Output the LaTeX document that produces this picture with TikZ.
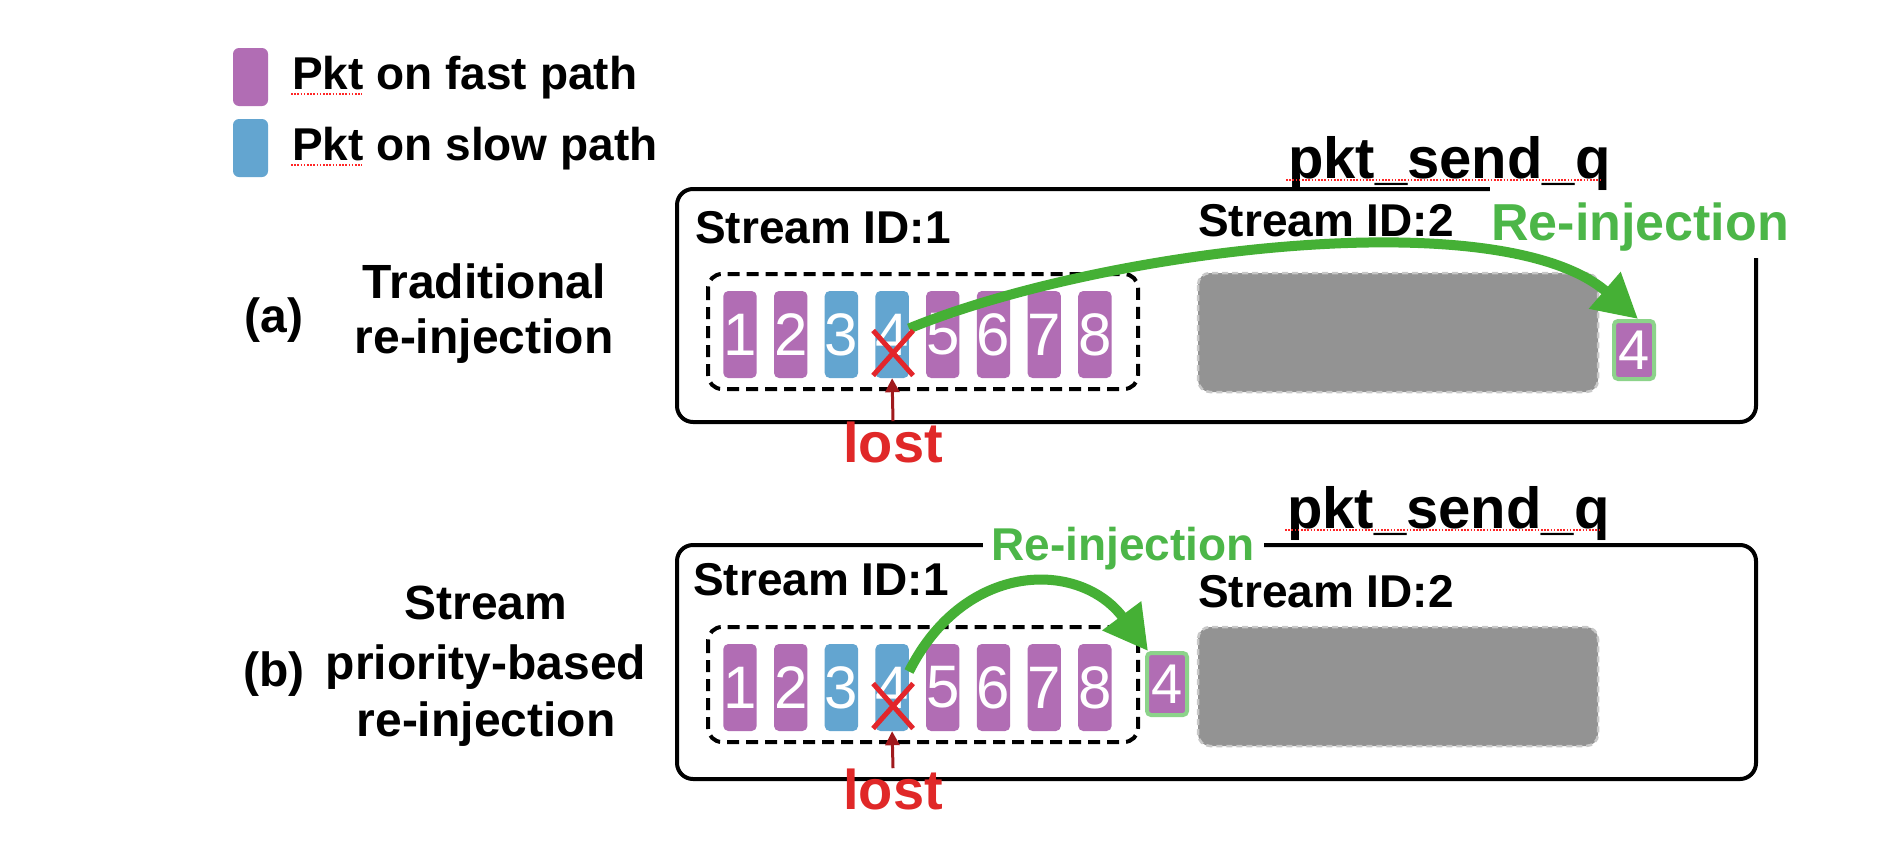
\documentclass[tikz,border=0pt]{standalone}
\usepackage{fontspec}
\setmainfont{Liberation Sans}
\usetikzlibrary{arrows.meta,calc}
\definecolor{pktpurple}{HTML}{B16DB4}
\definecolor{pktblue}{HTML}{63A5D0}
\definecolor{arrgreen}{HTML}{45B035}
\definecolor{lblgreen}{HTML}{4CB648}
\definecolor{boxgreen}{HTML}{8CD38A}
\definecolor{qgray}{HTML}{939393}
\definecolor{qgrayedge}{HTML}{C8C8C8}
\definecolor{xred}{HTML}{E3262B}
\definecolor{lostred}{HTML}{E02828}
\definecolor{darkred}{HTML}{A0191C}
\newcommand{\pxfont}[1]{\fontsize{#1}{#1}\selectfont}
\begin{document}
\begin{tikzpicture}[x=1pt,y=-1pt,
  lbl/.style={inner sep=0pt, font=\pxfont{46}\bfseries},
  captxt/.style={inner sep=0pt, font=\pxfont{48}\bfseries},
  pkt/.style={rounded corners=5pt, minimum width=33pt, minimum height=87pt, inner sep=0pt, text=white, font=\pxfont{60}},
  fast/.style={pkt, fill=pktpurple},
  slow/.style={pkt, fill=pktblue},
  legendbox/.style={rounded corners=6pt, minimum width=35pt, minimum height=58pt, inner sep=0pt},
  frame/.style={line width=4pt, rounded corners=16pt},
  streambox/.style={line width=4pt, rounded corners=14pt, dash pattern=on 12pt off 7pt},
  graybox/.style={fill=qgray, draw=qgrayedge, line width=2.5pt, dash pattern=on 6pt off 4pt, rounded corners=12pt},
  reinjbox/.style={fill=pktpurple, draw=boxgreen, line width=4pt, rounded corners=4pt, minimum width=40pt, inner sep=0pt, text=white, font=\pxfont{56}},
  reinj/.style={draw=arrgreen, line width=10pt, -{Triangle[length=44pt,width=46pt]}},
  lostarrow/.style={draw=darkred, line width=3pt, -{Triangle[length=14pt,width=14pt]}},
  cross/.style={draw=xred, line width=5pt},
  spell/.style={draw=red!85!white, line width=1.6pt, dash pattern=on 1.6pt off 1.6pt},
  qlabel/.style={inner sep=0pt, font=\pxfont{58}\bfseries},
  lostlbl/.style={inner sep=0pt, font=\pxfont{56}\bfseries, text=lostred}
]
\useasboundingbox (0,0) rectangle (1894,854);
\fill[white] (0,0) rectangle (1894,854);

% legend
\node[legendbox, fill=pktpurple] (legfast) at (250.5,77) {};
\node[legendbox, fill=pktblue] (legslow) at (250.5,148) {};
\node[lbl, anchor=base west] (legfasttxt) at (292,89) {Pkt on fast path};
\node[lbl, anchor=base west] (legslowtxt) at (292,160) {Pkt on slow path};
\draw[spell] (291,94) -- (362,94);
\draw[spell] (291,165) -- (362,165);

% frames
\draw[frame] (677,189) rectangle (1756,422);
\draw[frame] (677,545) rectangle (1756,779);

% label backgrounds that cut the frames
\fill[white] (1490,183) rectangle (1800,258);
\fill[white] (983,518) rectangle (1264,575);

% pkt_send_q
\node[qlabel, anchor=base west] (qa) at (1288,178) {pkt\_send\_q};
\node[qlabel, anchor=base west] (qb) at (1287,528) {pkt\_send\_q};
\draw[spell] (1286,180) -- (1600,180);
\draw[spell] (1285,530) -- (1599,530);

% stream labels
\node[lbl, anchor=base west] (s1a) at (695,243) {Stream ID:1};
\node[lbl, anchor=base west] (s2a) at (1198,236) {Stream ID:2};
\node[lbl, anchor=base west] (s1b) at (693,595) {Stream ID:1};
\node[lbl, anchor=base west] (s2b) at (1198,607) {Stream ID:2};

% stream boxes
\draw[streambox] (708,274) rectangle (1138,389);
\draw[streambox] (708,627) rectangle (1138,742);
\draw[graybox] (1198,273) rectangle (1598,392);
\draw[graybox] (1198,627) rectangle (1598,746);

% packets
\foreach \i/\c in {1/fast,2/fast,3/slow,4/slow,5/fast,6/fast,7/fast,8/fast} {
  \node[\c] (pa\i) at ({740+50.7*(\i-1)},334.5) {\i};
  \node[\c] (pb\i) at ({740+50.7*(\i-1)},687.5) {\i};
}

% re-injected packets
\node[reinjbox, minimum height=58pt] (ra) at (1634,350) {4};
\node[reinjbox, minimum height=62pt] (rb) at (1167,684) {4};

% re-injection arrows
\draw[reinj] ([yshift=6pt]pa4.east) .. controls (1100,250) and (1500,200) .. ([xshift=4pt]ra.north);
\draw[reinj] ([yshift=16pt]pb4.east) .. controls (965,560) and (1080,560) .. ([xshift=3pt]rb.north west);

% re-injection labels
\node[inner sep=0pt, font=\pxfont{52}\bfseries, text=lblgreen, anchor=base] (la) at (1640,240) {Re-injection};
\node[inner sep=0pt, font=\pxfont{46}\bfseries, text=lblgreen, anchor=base] (lb) at (1123,560) {Re-injection};

% lost marks
\draw[cross] ($(pa4)+(-19,-4)$) -- ($(pa4)+(21,41)$);
\draw[cross] ($(pa4)+(21,-4)$) -- ($(pa4)+(-19,41)$);
\draw[cross] ($(pb4)+(-19,-4)$) -- ($(pb4)+(21,41)$);
\draw[cross] ($(pb4)+(21,-4)$) -- ($(pb4)+(-19,41)$);
\node[lostlbl, anchor=base] (losta) at (893,462) {lost};
\node[lostlbl, anchor=base] (lostb) at (893,809) {lost};
\draw[lostarrow] (losta.north) -- (pa4.south);
\draw[lostarrow] (lostb.north) -- (pb4.south);

% left captions
\node[captxt, anchor=base] (capa) at (274,332) {(a)};
\node[captxt, anchor=base] (capa1) at (484,298) {Traditional};
\node[captxt, anchor=base] (capa2) at (484,353) {re-injection};
\node[captxt, anchor=base] (capb) at (274,686) {(b)};
\node[captxt, anchor=base] (capb1) at (486,619) {Stream};
\node[captxt, anchor=base] (capb2) at (486,679) {priority-based};
\node[captxt, anchor=base] (capb3) at (486,736) {re-injection};
\end{tikzpicture}
\end{document}
